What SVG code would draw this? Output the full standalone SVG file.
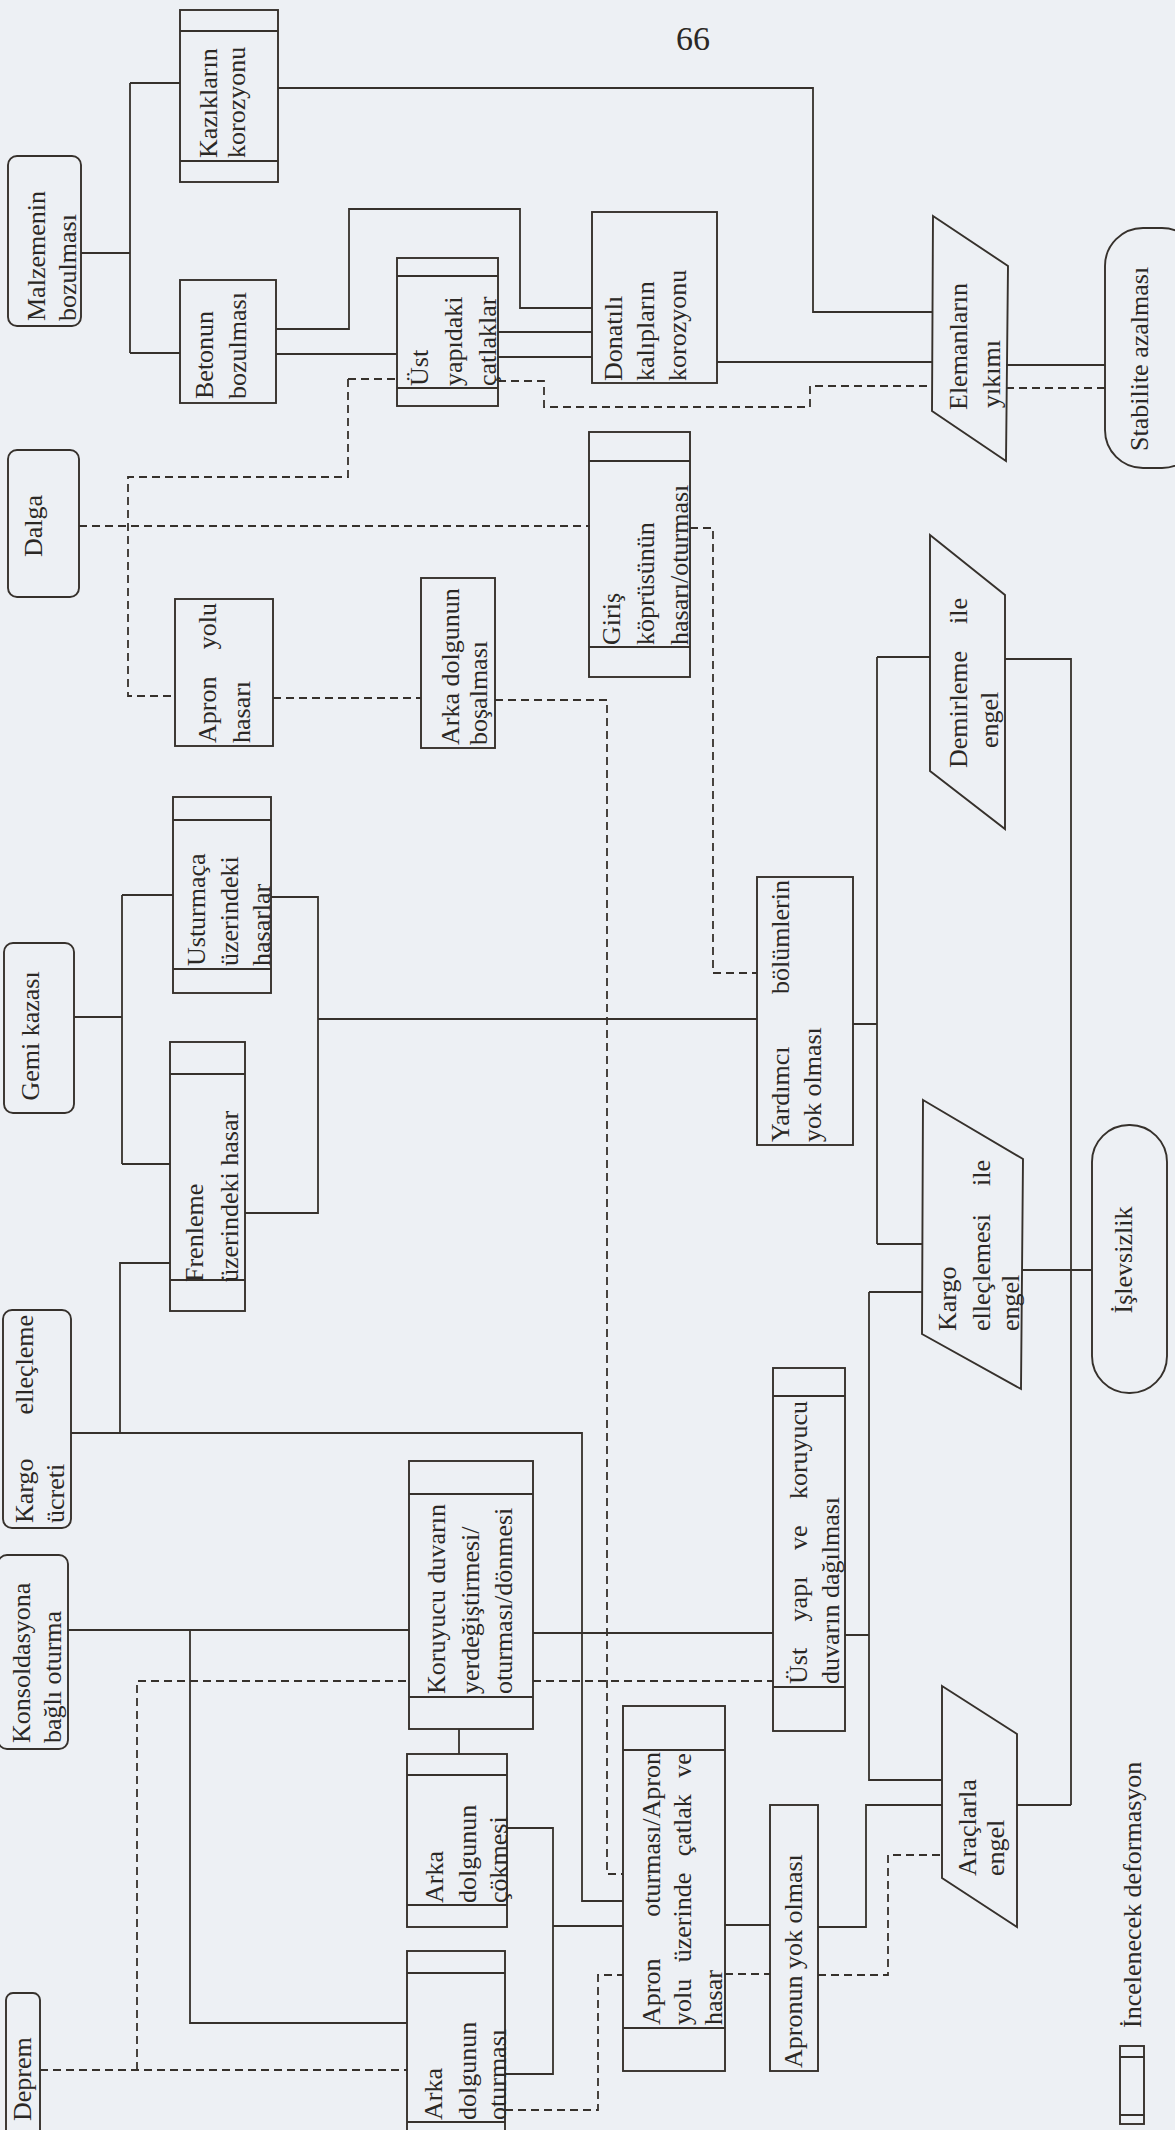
<svg xmlns="http://www.w3.org/2000/svg" width="1175" height="2130" viewBox="0 0 1175 2130">
<style>
.bg{fill:#edf0f4}
.b{fill:none;stroke:#36312c;stroke-width:1.9}
.c{fill:none;stroke:#36312c;stroke-width:1.8}
.d{fill:none;stroke:#36312c;stroke-width:1.8;stroke-dasharray:8 5}
.t{font-family:"Liberation Serif","Times New Roman",serif;font-size:26px;fill:#2b2825}
.m{text-anchor:middle}
.e{text-anchor:end}
</style>
<rect class="bg" x="0" y="0" width="1175" height="2130"/>
<g id="connectors">
<path class="c" d="M81,253 H130 M130,83 V353 M130,83 H180 M130,353 H180"/>
<path class="c" d="M278,88 H813 V312 H933"/>
<path class="c" d="M276,329 H349 V209 H520 V308 H592"/>
<path class="c" d="M276,354 H397"/>
<path class="c" d="M498,332 H592 M498,357 H592"/>
<path class="c" d="M717,362 H933"/>
<path class="c" d="M1006,365 H1105"/>
<path class="c" d="M74,1017 H122 M122,895 V1164 M122,895 H173 M122,1164 H170"/>
<path class="c" d="M271,897 H318 V1213 H245 M318,1019 H757"/>
<path class="c" d="M853,1024 H877 M877,657 V1244 M877,657 H930 M877,1244 H923"/>
<path class="c" d="M1005,659 H1071 V1805 M1017,1805 H1071"/>
<path class="c" d="M1022,1270 H1092"/>
<path class="c" d="M71,1433 H120 V1263 H170 M120,1433 H582 V1901 H623"/>
<path class="c" d="M68,1630 H409 M533,1633 H773 M190,1630 V2023 H407"/>
<path class="c" d="M459,1729 V1754"/>
<path class="c" d="M507,1828 H553 V2074 H505 M553,1926 H623"/>
<path class="c" d="M725,1925 H770"/>
<path class="c" d="M845,1635 H869 M869,1292 V1780 H942 M869,1292 H922"/>
<path class="c" d="M818,1927 H866 V1805 H942"/>
<path class="d" d="M348,379 H397 M348,379 V477 H128 V696 H175"/>
<path class="d" d="M498,381 H544 V407 H810 V386 H933"/>
<path class="d" d="M79,526 H590 M690,528 H713 V973 H757"/>
<path class="d" d="M273,698 H421 M495,700 H607 V1874 H623"/>
<path class="d" d="M1006,388 H1105"/>
<path class="d" d="M40,2070 H407 M137,2070 V1681 H409 M533,1681 H773"/>
<path class="d" d="M505,2110 H598 V1975 H623"/>
<path class="d" d="M725,1974 H770"/>
<path class="d" d="M818,1975 H888 V1855 H942"/>
</g>
<g id="n-malzemenin">
<rect class="b" x="8" y="156" width="73" height="170" rx="9"/>
<text class="t" x="45" y="321" transform="rotate(-90 45 321)">Malzemenin</text>
<text class="t" x="76" y="321" transform="rotate(-90 76 321)">bozulması</text>
</g>
<g id="n-dalga">
<rect class="b" x="8" y="450" width="71" height="147" rx="9"/>
<text class="t m" x="42" y="526" transform="rotate(-90 42 526)">Dalga</text>
</g>
<g id="n-gemi">
<rect class="b" x="4" y="943" width="70" height="170" rx="9"/>
<text class="t m" x="39" y="1036" transform="rotate(-90 39 1036)">Gemi kazası</text>
</g>
<g id="n-kargo-ucreti">
<rect class="b" x="3" y="1310" width="68" height="218" rx="9"/>
<text class="t" x="33" y="1523" transform="rotate(-90 33 1523)">Kargo</text>
<text class="t e" x="33" y="1315" transform="rotate(-90 33 1315)">elleçleme</text>
<text class="t" x="64" y="1523" transform="rotate(-90 64 1523)">ücreti</text>
</g>
<g id="n-konsolidasyon">
<rect class="b" x="-2" y="1555" width="70" height="194" rx="9"/>
<text class="t" x="30" y="1743" transform="rotate(-90 30 1743)">Konsoldasyona</text>
<text class="t" x="61" y="1743" transform="rotate(-90 61 1743)">bağlı oturma</text>
</g>
<g id="n-deprem">
<rect class="b" x="6" y="1993" width="34" height="150" rx="7"/>
<text class="t" x="31" y="2121" transform="rotate(-90 31 2121)">Deprem</text>
</g>
<g id="n-kaziklar">
<rect class="b" x="180" y="10" width="98" height="172"/>
<path class="b" d="M180,31 H278 M180,161 H278"/>
<text class="t" x="217" y="158" transform="rotate(-90 217 158)">Kazıkların</text>
<text class="t" x="245" y="158" transform="rotate(-90 245 158)">korozyonu</text>
</g>
<g id="n-betonun">
<rect class="b" x="180" y="280" width="96" height="123"/>
<text class="t" x="213" y="399" transform="rotate(-90 213 399)">Betonun</text>
<text class="t" x="246" y="399" transform="rotate(-90 246 399)">bozulması</text>
</g>
<g id="n-apron-yolu">
<rect class="b" x="175" y="599" width="98" height="147"/>
<text class="t" x="216" y="743" transform="rotate(-90 216 743)">Apron</text>
<text class="t e" x="216" y="603" transform="rotate(-90 216 603)">yolu</text>
<text class="t" x="250" y="743" transform="rotate(-90 250 743)">hasarı</text>
</g>
<g id="n-usturmaca">
<rect class="b" x="173" y="797" width="98" height="196"/>
<path class="b" d="M173,820 H271 M173,969 H271"/>
<text class="t" x="205" y="966" transform="rotate(-90 205 966)">Usturmaça</text>
<text class="t" x="238" y="966" transform="rotate(-90 238 966)">üzerindeki</text>
<text class="t" x="270" y="966" transform="rotate(-90 270 966)">hasarlar</text>
</g>
<g id="n-frenleme">
<rect class="b" x="170" y="1042" width="75" height="269"/>
<path class="b" d="M170,1074 H245 M170,1280 H245"/>
<text class="t" x="203" y="1282" transform="rotate(-90 203 1282)">Frenleme</text>
<text class="t" x="238" y="1282" transform="rotate(-90 238 1282)">üzerindeki hasar</text>
</g>
<g id="n-koruyucu">
<rect class="b" x="409" y="1461" width="124" height="268"/>
<path class="b" d="M409,1494 H533 M409,1697 H533"/>
<text class="t" x="445" y="1694" transform="rotate(-90 445 1694)">Koruyucu duvarın</text>
<text class="t" x="479" y="1694" transform="rotate(-90 479 1694)">yerdeğiştirmesi/</text>
<text class="t" x="512" y="1694" transform="rotate(-90 512 1694)">oturması/dönmesi</text>
</g>
<g id="n-arka-cokmesi">
<rect class="b" x="407" y="1754" width="100" height="173"/>
<path class="b" d="M407,1775 H507 M407,1905 H507"/>
<text class="t" x="443" y="1903" transform="rotate(-90 443 1903)">Arka</text>
<text class="t" x="476" y="1903" transform="rotate(-90 476 1903)">dolgunun</text>
<text class="t" x="507" y="1903" transform="rotate(-90 507 1903)">çökmesi</text>
</g>
<g id="n-arka-oturmasi">
<rect class="b" x="407" y="1951" width="98" height="190"/>
<path class="b" d="M407,1973 H505 M407,2122 H505"/>
<text class="t" x="442" y="2120" transform="rotate(-90 442 2120)">Arka</text>
<text class="t" x="476" y="2120" transform="rotate(-90 476 2120)">dolgunun</text>
<text class="t" x="506" y="2120" transform="rotate(-90 506 2120)">oturması</text>
</g>
<g id="n-ust-yapidaki">
<rect class="b" x="397" y="258" width="101" height="148"/>
<path class="b" d="M397,276 H498 M397,388 H498"/>
<text class="t" x="428" y="386" transform="rotate(-90 428 386)">Üst</text>
<text class="t" x="462" y="386" transform="rotate(-90 462 386)">yapıdaki</text>
<text class="t" x="496" y="386" transform="rotate(-90 496 386)">çatlaklar</text>
</g>
<g id="n-arka-bosalmasi">
<rect class="b" x="421" y="578" width="74" height="170"/>
<text class="t" x="459" y="745" transform="rotate(-90 459 745)">Arka dolgunun</text>
<text class="t" x="487" y="745" transform="rotate(-90 487 745)">boşalması</text>
</g>
<g id="n-apron-oturmasi">
<rect class="b" x="623" y="1706" width="102" height="365"/>
<path class="b" d="M623,1750 H725 M623,2028 H725"/>
<text class="t" x="660" y="2025" transform="rotate(-90 660 2025)">Apron</text>
<text class="t e" x="660" y="1752" transform="rotate(-90 660 1752)">oturması/Apron</text>
<text class="t" x="691" y="2025" transform="rotate(-90 691 2025)" style="word-spacing:10px">yolu üzerinde çatlak ve</text>
<text class="t" x="722" y="2025" transform="rotate(-90 722 2025)">hasar</text>
</g>
<g id="n-donatili">
<rect class="b" x="592" y="212" width="125" height="171"/>
<text class="t" x="622" y="381" transform="rotate(-90 622 381)">Donatılı</text>
<text class="t" x="654" y="381" transform="rotate(-90 654 381)">kalıpların</text>
<text class="t" x="686" y="381" transform="rotate(-90 686 381)">korozyonu</text>
</g>
<g id="n-giris">
<rect class="b" x="589" y="432" width="101" height="245"/>
<path class="b" d="M589,461 H690 M589,647 H690"/>
<text class="t" x="620" y="645" transform="rotate(-90 620 645)">Giriş</text>
<text class="t" x="654" y="645" transform="rotate(-90 654 645)">köprüsünün</text>
<text class="t" x="688" y="645" transform="rotate(-90 688 645)">hasarı/oturması</text>
</g>
<g id="n-yardimci">
<rect class="b" x="757" y="877" width="96" height="268"/>
<text class="t" x="789" y="1142" transform="rotate(-90 789 1142)">Yardımcı</text>
<text class="t e" x="789" y="880" transform="rotate(-90 789 880)">bölümlerin</text>
<text class="t" x="821" y="1142" transform="rotate(-90 821 1142)">yok olması</text>
</g>
<g id="n-ust-yapi">
<rect class="b" x="773" y="1368" width="72" height="363"/>
<path class="b" d="M773,1396 H845 M773,1687 H845"/>
<text class="t" x="807" y="1684" transform="rotate(-90 807 1684)" style="word-spacing:20px">Üst yapı ve koruyucu</text>
<text class="t" x="839" y="1684" transform="rotate(-90 839 1684)">duvarın dağılması</text>
</g>
<g id="n-apronun">
<rect class="b" x="770" y="1805" width="48" height="266"/>
<text class="t" x="802" y="2068" transform="rotate(-90 802 2068)">Apronun yok olması</text>
</g>
<g id="n-elemanlar">
<polygon class="b" points="933,216 1008,266 1006,461 932,411"/>
<text class="t" x="967" y="410" transform="rotate(-90 967 410)">Elemanların</text>
<text class="t" x="1000" y="408" transform="rotate(-90 1000 408)">yıkımı</text>
</g>
<g id="n-demirleme">
<polygon class="b" points="930,535 1005,595 1005,829 930,771"/>
<text class="t" x="967" y="768" transform="rotate(-90 967 768)">Demirleme</text>
<text class="t e" x="967" y="598" transform="rotate(-90 967 598)">ile</text>
<text class="t" x="998" y="748" transform="rotate(-90 998 748)">engel</text>
</g>
<g id="n-kargo-engel">
<polygon class="b" points="923,1100 1023,1159 1021,1389 922,1334"/>
<text class="t" x="956" y="1331" transform="rotate(-90 956 1331)">Kargo</text>
<text class="t" x="990" y="1331" transform="rotate(-90 990 1331)">elleçlemesi</text>
<text class="t e" x="990" y="1160" transform="rotate(-90 990 1160)">ile</text>
<text class="t" x="1019" y="1331" transform="rotate(-90 1019 1331)">engel</text>
</g>
<g id="n-araclarla">
<polygon class="b" points="942,1686 1017,1734 1017,1927 942,1878"/>
<text class="t" x="976" y="1876" transform="rotate(-90 976 1876)">Araçlarla</text>
<text class="t" x="1004" y="1876" transform="rotate(-90 1004 1876)">engel</text>
</g>
<g id="n-stabilite">
<rect class="b" x="1105" y="228" width="95" height="240" rx="38"/>
<text class="t" x="1148" y="451" transform="rotate(-90 1148 451)">Stabilite azalması</text>
</g>
<g id="n-islevsizlik">
<rect class="b" x="1092" y="1125" width="75" height="268" rx="37"/>
<text class="t m" x="1132" y="1260" transform="rotate(-90 1132 1260)">İşlevsizlik</text>
</g>
<g id="legend">
<rect class="b" x="1120" y="2046" width="24" height="78"/>
<path class="b" d="M1120,2057 H1144 M1120,2115 H1144"/>
<text class="t" x="1141" y="2028" transform="rotate(-90 1141 2028)">İncelenecek deformasyon</text>
</g>
<g id="page-number">
<text class="t" x="676" y="50" style="font-size:34px">66</text>
</g>
</svg>
